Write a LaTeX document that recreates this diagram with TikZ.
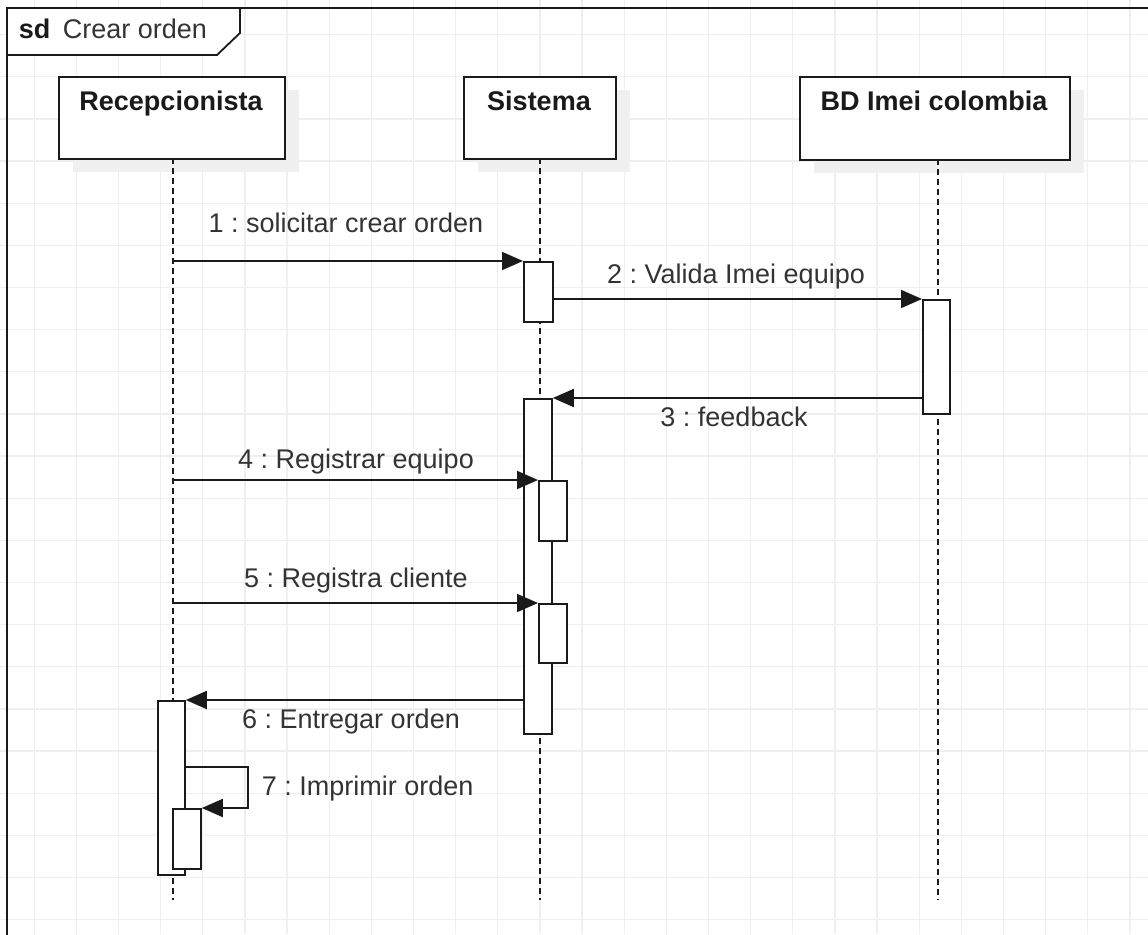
\documentclass[tikz,border=0pt]{standalone}
\usepackage{fontspec}
\setmainfont{Liberation Sans}
\usetikzlibrary{arrows.meta}
\definecolor{gridc}{HTML}{EFEFEF}
\definecolor{ink}{HTML}{1A1A1A}
\definecolor{txt}{HTML}{333333}
\definecolor{shadowc}{HTML}{F0F0F0}

\begin{document}
\frenchspacing
\begin{tikzpicture}[x=1pt,y=-1pt,
  line width=1.8pt,
  head/.style={draw=ink, fill=white, inner sep=0pt, anchor=north west},
  headtxt/.style={font=\fontsize{27}{30}\selectfont\bfseries, text=ink, anchor=base, inner sep=0pt},
  act/.style={draw=ink, fill=white, inner sep=0pt, anchor=north west},
  life/.style={draw=ink, line width=1.8pt, dash pattern=on 6pt off 4pt},
  msg/.style={draw=ink, -{Triangle[length=21pt,width=18pt]}},
  lbl/.style={font=\fontsize{27}{30}\selectfont, text=txt, anchor=base, inner sep=0pt},
]
\useasboundingbox (0,0) rectangle (1148,934);
\clip (0,0) rectangle (1148,934);

% background grid
\foreach \i in {0,...,27}
  \draw[gridc, line width=1.3pt] ({34.2+42.14*\i},0) -- ({34.2+42.14*\i},934);
\foreach \j in {0,...,22}
  \draw[gridc, line width=1.3pt] (0,{34.7+42.14*\j}) -- (1148,{34.7+42.14*\j});

% sequence frame and its tab
\draw[ink] (7,960) -- (7,8) -- (1170,8);
\draw[ink, fill=white] (7,8) -- (240,8) -- (240,33) -- (217,55) -- (7,55) -- cycle;
\node[font=\fontsize{27}{30}\selectfont\bfseries, text=ink, anchor=base west, inner sep=0pt] (sd) at (18,39) {sd};
\node[font=\fontsize{27}{30}\selectfont, text=txt, anchor=base west, inner sep=0pt] (title) at (62,39) {Crear orden};

% lifeline heads with soft shadows
\fill[shadowc] (73,90) rectangle (299,172);
\fill[shadowc] (478,90) rectangle (630,172);
\fill[shadowc] (814,90) rectangle (1084,173);
\node[head, minimum width=226, minimum height=82] (rec) at (58,76) {};
\node[head, minimum width=152, minimum height=82] (sis) at (463,76) {};
\node[head, minimum width=270, minimum height=83] (bd) at (799,76) {};
\node[headtxt] (recT) at (171,110) {Recepcionista};
\node[headtxt] (sisT) at (539,110) {Sistema};
\node[headtxt] (bdT) at (934,110) {BD Imei colombia};

% lifelines
\coordinate (recTop) at (173,158);
\coordinate (recEnd) at (173,900);
\coordinate (sisTop) at (540,158);
\coordinate (sisEnd) at (540,900);
\coordinate (bdTop) at (938,159);
\coordinate (bdEnd) at (938,900);
\draw[life] (recTop) -- (recEnd);
\draw[life] (sisTop) -- (sisEnd);
\draw[life] (bdTop) -- (bdEnd);

% activation bars
\node[act, minimum width=29, minimum height=60] (s1) at (523,261) {};
\node[act, minimum width=27, minimum height=114] (b1) at (922,299) {};
\node[act, minimum width=28, minimum height=335] (s2) at (523,398) {};
\node[act, minimum width=28, minimum height=60] (s3) at (538,480) {};
\node[act, minimum width=28, minimum height=59] (s4) at (538,603) {};
\node[act, minimum width=27, minimum height=174] (r1) at (157,700) {};
\node[act, minimum width=28, minimum height=60] (r2) at (172,808) {};

% messages
\draw[msg] (recTop |- s1.north) -- (s1.north west);
\draw[msg] (s1.east |- b1.north) -- (b1.north west);
\draw[msg] (b1.west |- s2.north) -- (s2.north east);
\draw[msg] (recTop |- s3.north) -- (s3.north west);
\draw[msg] (recTop |- s4.north) -- (s4.north west);
\draw[msg] (s2.west |- r1.north) -- (r1.north east);
\coordinate (loop) at (248,767);
\draw[msg] (r1.east |- loop) -- (loop) -- (loop |- r2.north) -- (r2.north east);

% message labels
\node[lbl] (m1) at (346,232) {1 : solicitar crear orden};
\node[lbl] (m2) at (736,283) {2 : Valida Imei equipo};
\node[lbl] (m3) at (734,426) {3 : feedback};
\node[lbl] (m4) at (356,468) {4 : Registrar equipo};
\node[lbl] (m5) at (356,587) {5 : Registra cliente};
\node[lbl] (m6) at (351,728) {6 : Entregar orden};
\node[lbl, anchor=base west] (m7) at (261,795) {7 : Imprimir orden};
\end{tikzpicture}
\end{document}
